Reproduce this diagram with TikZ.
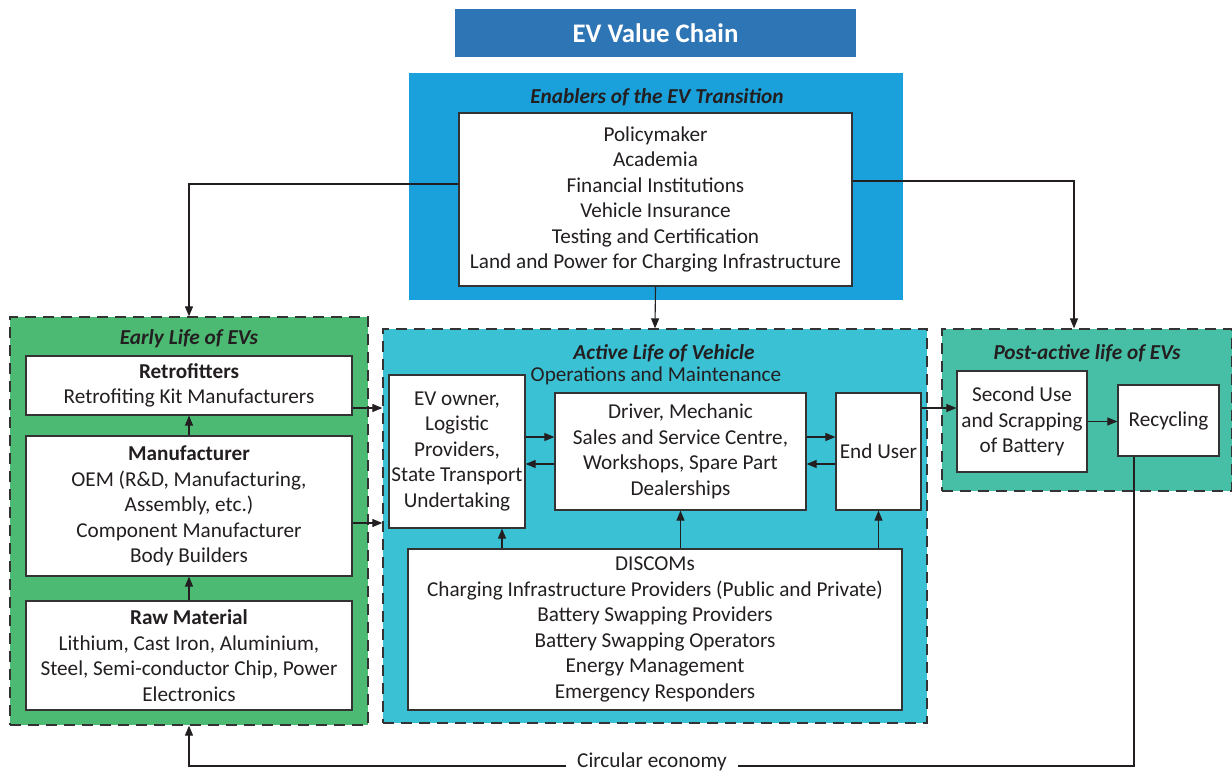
\documentclass[tikz,border=0pt]{standalone}
\usepackage{fontspec}
\setmainfont{Carlito}
\usetikzlibrary{arrows.meta}
\definecolor{txt}{HTML}{231F20}
\definecolor{edge}{HTML}{333333}
\definecolor{titleblue}{HTML}{2E75B6}
\definecolor{enabblue}{HTML}{1AA0DA}
\definecolor{earlygreen}{HTML}{4CBA72}
\definecolor{activecyan}{HTML}{3AC1D4}
\definecolor{postteal}{HTML}{47BFA6}
\begin{document}
\begin{tikzpicture}[x=1pt,y=-1pt,
  font=\fontsize{21.2}{25.5}\selectfont, text=txt,
  wbox/.style={draw=edge, line width=1.2pt, fill=white, align=center, inner sep=0pt},
  zone/.style={draw=edge, dash pattern=on 11pt off 7pt, line width=1.3pt, inner sep=0pt},
  heading/.style={font=\fontsize{21.3}{24}\selectfont\bfseries\itshape, inner sep=0pt},
  link/.style={draw=txt, line width=1.1pt},
  arr/.style={link, -{Triangle[length=10pt,width=8pt]}}]
\clip (0,0) rectangle (1232,773);
\fill[white] (0,0) rectangle (1232,773);

% title banner
\node[fill=titleblue, minimum width=401pt, minimum height=48pt, inner sep=0pt,
      text=white, font=\fontsize{26.8}{30}\selectfont\bfseries] (title) at (655.5,33.5) {EV Value Chain};

% enablers
\node[fill=enabblue, minimum width=494pt, minimum height=227pt, inner sep=0pt] (enab) at (656,186.5) {};
\node[heading] (enabt) at (657,97.5) {Enablers of the EV Transition};
\node[wbox, minimum width=393pt, minimum height=173pt] (inner) at (655.5,199.5)
  {Policymaker\\Academia\\Financial Institutions\\Vehicle Insurance\\Testing and Certification\\Land and Power for Charging Infrastructure};

% early life
\node[zone, fill=earlygreen, minimum width=358pt, minimum height=408pt] (early) at (189,521) {};
\node[heading] (earlyt) at (189,338.5) {Early Life of EVs};
\node[wbox, minimum width=326pt, minimum height=59pt] (retro) at (189,385.5)
  {\textbf{Retrofitters}\\Retrofiting Kit Manufacturers};
\node[wbox, minimum width=326pt, minimum height=140pt] (manuf) at (189,506)
  {\textbf{Manufacturer}\\OEM (R\&D, Manufacturing,\\Assembly, etc.)\\Component Manufacturer\\Body Builders};
\node[wbox, minimum width=326pt, minimum height=109pt] (raw) at (189,655.5)
  {\textbf{Raw Material}\\Lithium, Cast Iron, Aluminium,\\Steel, Semi-conductor Chip, Power\\Electronics};

% active life
\node[zone, fill=activecyan, minimum width=544pt, minimum height=394pt] (active) at (655,526) {};
\node[heading] (activet) at (664,353.5) {Active Life of Vehicle};
\node[inner sep=0pt] (actives) at (656,376) {Operations and Maintenance};
\node[wbox, minimum width=136pt, minimum height=153pt] (ev) at (457,451.5)
  {EV owner,\\Logistic\\Providers,\\State Transport\\Undertaking};
\node[wbox, minimum width=251pt, minimum height=117pt] (driver) at (680.5,451.5)
  {Driver, Mechanic\\Sales and Service Centre,\\Workshops, Spare Part\\Dealerships};
\node[wbox, minimum width=85pt, minimum height=117pt] (enduser) at (878.5,451.5) {End User};
\node[wbox, minimum width=494pt, minimum height=161pt] (disc) at (655,629.5)
  {DISCOMs\\Charging Infrastructure Providers (Public and Private)\\Battery Swapping Providers\\Battery Swapping Operators\\Energy Management\\Emergency Responders};

% post-active life
\node[zone, fill=postteal, minimum width=290pt, minimum height=162pt] (post) at (1087,410) {};
\node[heading] (postt) at (1087,353.5) {Post-active life of EVs};
\node[wbox, minimum width=130pt, minimum height=101pt] (second) at (1022,421.5)
  {Second Use\\and Scrapping\\of Battery};
\node[wbox, minimum width=101pt, minimum height=71pt] (recyc) at (1168.5,420.5) {Recycling};

% enablers feed every stage
\draw[arr] ([yshift=15.5pt]inner.west) -| (early.north);
\draw[arr] ([yshift=18.5pt]inner.east) -| ([xshift=-13pt]post.north);
\draw[arr] (inner.south) -- (active.north);

% early life flows
\draw[arr] (raw.north) -- (manuf.south);
\draw[arr] (manuf.north) -- (retro.south);
\draw[arr] ([yshift=-22.5pt]retro.east) -- ([yshift=-22.5pt]retro.east -| active.west);
\draw[arr] ([yshift=-17pt]manuf.east) -- ([yshift=-17pt]manuf.east -| active.west);

% active life flows
\draw[arr] ([yshift=14.5pt]driver.west -| ev.east) -- ([yshift=14.5pt]driver.west);
\draw[arr] ([yshift=-12.5pt]driver.west) -- ([yshift=-12.5pt]driver.west -| ev.east);
\draw[arr] ([yshift=14.5pt]driver.east) -- ([yshift=14.5pt]driver.east -| enduser.west);
\draw[arr] ([yshift=-12.5pt]enduser.west) -- ([yshift=-12.5pt]enduser.west -| driver.east);
\draw[arr] ([xshift=45pt]ev.south |- disc.north) -- ([xshift=45pt]ev.south);
\draw[arr] (driver.south |- disc.north) -- (driver.south);
\draw[arr] (enduser.south |- disc.north) -- (enduser.south);
\draw[arr] ([yshift=43.5pt]enduser.east) -- ([yshift=43.5pt]enduser.east -| second.west);

% post-active flows
\draw[arr] (second.east) -- (second.east -| recyc.west);

% circular economy loop
\node[inner xsep=11pt, inner ysep=0pt] (circ) at (652,761.5) {Circular economy};
\draw[link] ([xshift=-34.5pt]recyc.south) |- ([yshift=-4.5pt]circ.east);
\draw[arr] ([yshift=-4.5pt]circ.west) -| (early.south);
\end{tikzpicture}
\end{document}
